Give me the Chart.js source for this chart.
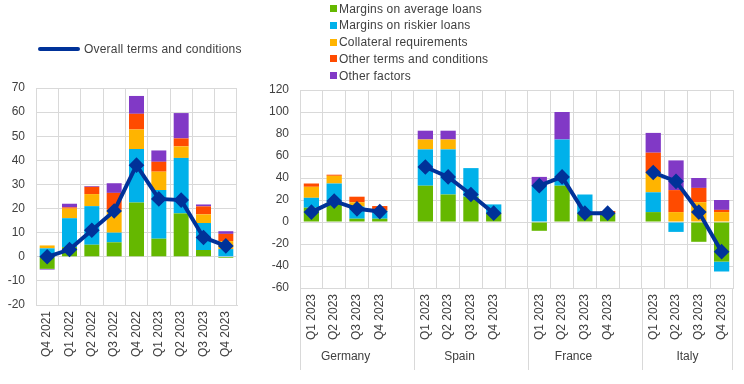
<!DOCTYPE html>
<html><head><meta charset="utf-8">
<script src="https://cdn.jsdelivr.net/npm/chart.js@4.4.1/dist/chart.umd.min.js"></script>
<style>
body{margin:0;width:744px;height:384px;background:#fff;position:relative;overflow:hidden;font-family:'Liberation Sans',Arial,sans-serif;color:#404040;font-size:12px}
canvas{position:absolute;top:0}
#c1{left:0}
#c2{left:250px}
.leg{position:absolute;white-space:nowrap;line-height:14px;letter-spacing:0.2px}
</style></head>
<body>
<canvas id="c1" width="248" height="384"></canvas>
<canvas id="c2" width="494" height="384"></canvas>
<div id="legL"></div>
<div id="legR"></div>
<script>
// ---- data: euro area (left panel)
const leftLabels = ['Q4 2021','Q1 2022','Q2 2022','Q3 2022','Q4 2022','Q1 2023','Q2 2023','Q3 2023','Q4 2023'];
const leftMarginsAvg   = [-5, 4, 5, 6, 22.5, 7.5, 18, 2.8, -0.5];
const leftMarginsRisk  = [3.5, 12, 16, 4, 22.2, 20.2, 23, 11.2, 3.2];
const leftCollateral   = [1.2, 4, 5, 9.5, 8.1, 7.6, 4.8, 3.6, 3.3];
const leftOtherTerms   = [0, 0.5, 3, 7, 6.5, 4.1, 3.3, 3.3, 3];
const leftOtherFactors = [-0.3, 1.5, 0.3, 4, 7.4, 4.7, 10.5, 0.8, 1.1];
const leftOverall      = [0, 3, 11, 19, 38, 24, 23.5, 8, 4.5];

// ---- data: countries (right panel), 4 quarters per country
const countries = ['Germany','Spain','France','Italy'];
const quarters  = ['Q1 2023','Q2 2023','Q3 2023','Q4 2023'];
const rightMarginsAvg   = [13, 18, 3, 3,   33, 25, 23, 8,   -8, 33, 8, 8,   9, 0, -18, -36];
const rightMarginsRisk  = [9, 17, 11, 7,   33, 41, 26, 8,   33, 42, 17, 0,  18, -9, 0, -9];
const rightCollateral   = [10, 7, 4, 0.5,  9, 9, 0, 0,      0, 0, 0, 0,     18, 9, 18, 9];
const rightOtherTerms   = [3, 1, 5, 4,     0, 0, 0, 0,      0, 0, 0, 2,     18, 20, 13, 2];
const rightOtherFactors = [0, 0, 0, 0,     8, 8, 0, 0,      8, 25, 0, 0,    18, 27, 9, 9];
const rightOverall      = [9, 19, 12, 9.5, 50, 41, 25, 8,   33, 41, 8, 8,   45, 37, 9, -27];

const seriesNames = ['Margins on average loans','Margins on riskier loans','Collateral requirements','Other terms and conditions','Other factors'];
const lineName = 'Overall terms and conditions';

const colors = ['#65b800','#00b1ea','#ffb400','#ff4b00','#8139c6'];
const lineColor = '#003299';
const gridColor = '#d9d9d9';
const textColor = '#404040';
const font = {family:"'Liberation Sans', Arial, sans-serif", size:12};

// build slotted arrays for right panel (gap slot after each country except last)
function slot(arr){
  const out=[];
  countries.forEach((c,ci)=>{
    for(let q=0;q<quarters.length;q++) out.push(arr[ci*quarters.length+q]);
    if(ci<countries.length-1) out.push(null);
  });
  return out;
}
const rightLabels = [];
countries.forEach((c,ci)=>{ quarters.forEach(q=>rightLabels.push(q)); if(ci<countries.length-1) rightLabels.push(''); });

function datasets(series, overall){
  const ds = series.map((d,i)=>({
    type:'bar', label:seriesNames[i], data:d, backgroundColor:colors[i], borderWidth:0,
    stack:'s', order:1, categoryPercentage:1, barPercentage:0.67
  }));
  ds.push({type:'line', label:lineName, data:overall, borderColor:lineColor, backgroundColor:lineColor,
    borderWidth:4, pointStyle:'rectRot', pointRadius:5, pointHoverRadius:5, stack:'line', order:0,
    spanGaps:false, tension:0});
  return ds;
}

function options(min,max,step,yWidth,xHeight,padTop,padRight){
  return {
    responsive:false, animation:false,
    layout:{padding:{top:padTop,right:padRight,left:0,bottom:0}},
    plugins:{legend:{display:false},tooltip:{enabled:false}},
    scales:{
      x:{stacked:true,
         grid:{offset:true,color:gridColor,drawTicks:false},
         border:{color:gridColor},
         ticks:{autoSkip:false,maxRotation:90,minRotation:90,padding:6,font:font,color:textColor},
         afterFit:s=>{s.height=xHeight;}},
      y:{stacked:true,min:min,max:max,
         grid:{color:gridColor,drawTicks:false},
         border:{color:gridColor},
         ticks:{stepSize:step,padding:11,font:font,color:textColor},
         afterFit:s=>{s.width=yWidth;}}
    }
  };
}

new Chart(document.getElementById('c1'),{
  data:{labels:leftLabels,datasets:datasets([leftMarginsAvg,leftMarginsRisk,leftCollateral,leftOtherTerms,leftOtherFactors],leftOverall)},
  options:options(-20,70,10,36,79,88,11)
});

const groupPlugin = {
  id:'groups',
  afterDraw(chart){
    const {ctx} = chart; const x = chart.scales.x; const area = chart.chartArea;
    const n = rightLabels.length;
    const bnd = i => i<=0 ? x.left : (i>=n ? x.right : (x.getPixelForValue(i-1)+x.getPixelForValue(i))/2);
    ctx.save();
    ctx.strokeStyle = gridColor; ctx.lineWidth = 1;
    ctx.fillStyle = textColor; ctx.font = "12px 'Liberation Sans', Arial, sans-serif";
    ctx.textAlign='center'; ctx.textBaseline='middle';
    const per = quarters.length+1;
    countries.forEach((c,ci)=>{
      const s = ci*per;
      const xs = Math.round(bnd(s))+0.5;
      ctx.beginPath(); ctx.moveTo(xs,area.bottom); ctx.lineTo(xs,area.bottom+82); ctx.stroke();
      const cx = (bnd(s)+bnd(s+quarters.length))/2;
      ctx.fillText(c, cx, area.bottom+69);
      if(ci===countries.length-1){
        const xe = Math.round(bnd(n))-0.5;
        ctx.beginPath(); ctx.moveTo(xe,area.bottom); ctx.lineTo(xe,area.bottom+82); ctx.stroke();
      }
    });
    ctx.restore();
  }
};

new Chart(document.getElementById('c2'),{
  data:{labels:rightLabels,datasets:datasets([rightMarginsAvg,rightMarginsRisk,rightCollateral,rightOtherTerms,rightOtherFactors].map(slot),slot(rightOverall))},
  options:options(-60,120,20,50,96,90,11),
  plugins:[groupPlugin]
});

// legends (HTML text)
const legL = document.getElementById('legL');
legL.innerHTML = '<div style="position:absolute;left:38px;top:47px;width:42px;height:4px;border-radius:2px;background:'+lineColor+'"></div>'+
  '<div class="leg" style="left:84px;top:42px">'+lineName+'</div>';
const legR = document.getElementById('legR');
seriesNames.forEach((nm,i)=>{
  const top = 1.5 + i*16.8;
  legR.innerHTML += '<div style="position:absolute;left:330px;top:'+(top+3.5)+'px;width:7px;height:7px;background:'+colors[i]+'"></div>'+
    '<div class="leg" style="left:339px;top:'+top+'px">'+nm+'</div>';
});
</script>
</body></html>
